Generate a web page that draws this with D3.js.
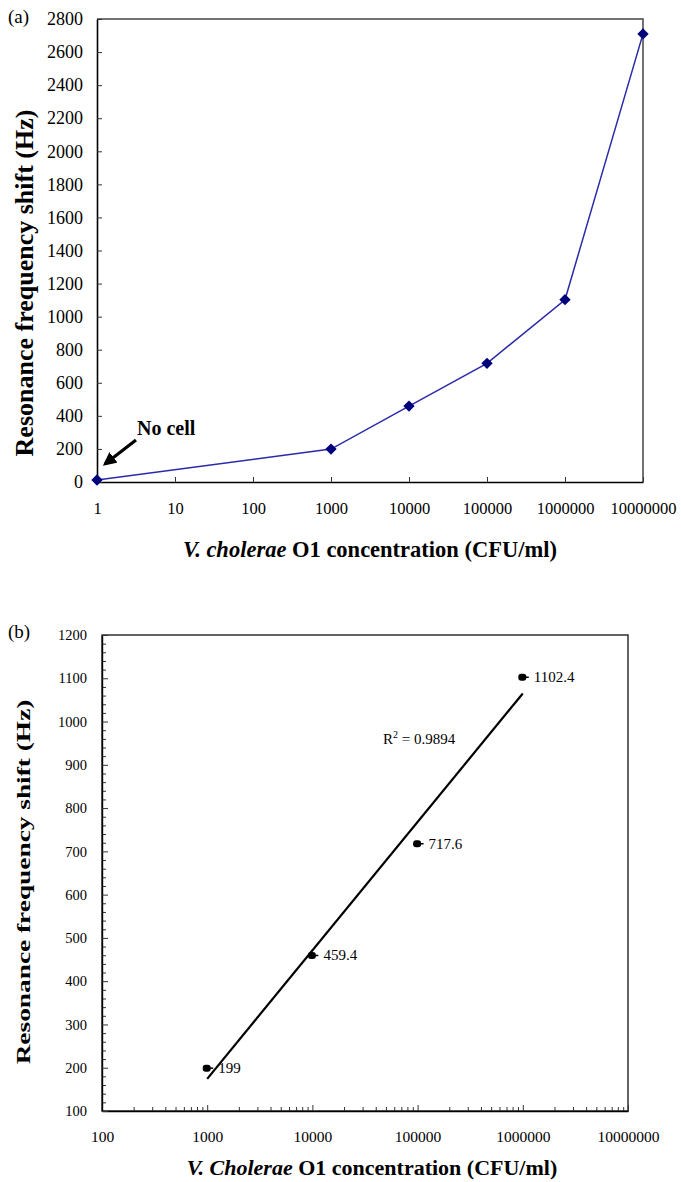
<!DOCTYPE html>
<html>
<head>
<meta charset="utf-8">
<script src="https://cdn.jsdelivr.net/npm/d3@7"></script>
<style>
  html, body { margin: 0; padding: 0; background: #fff; }
  svg { display: block; }
  text { font-family: "Liberation Serif", "Times New Roman", serif; fill: #000; }
</style>
</head>
<body>
<svg id="fig" width="681" height="1182"></svg>
<script>
// ---- data ----
var concA  = [1, 1000, 10000, 100000, 1000000, 10000000];
var shiftA = [12, 199, 459.4, 717.6, 1102.4, 2710];
var xTicksA = [1, 10, 100, 1000, 10000, 100000, 1000000, 10000000];
var yTicksA = [0, 200, 400, 600, 800, 1000, 1200, 1400, 1600, 1800, 2000, 2200, 2400, 2600, 2800];

var concB  = [1000, 10000, 100000, 1000000];
var shiftB = [199, 459.4, 717.6, 1102.4];
var labelsB = ['199', '459.4', '717.6', '1102.4'];
var xTicksB = [100, 1000, 10000, 100000, 1000000, 10000000];
var yTicksB = [100, 200, 300, 400, 500, 600, 700, 800, 900, 1000, 1100, 1200];
var r2Label = '0.9894';

var svg = d3.select('#fig');

function styleAxis(g, size, w) {
  g.attr('font-family', null).attr('font-size', null);
  g.select('.domain').attr('stroke', '#000').attr('stroke-width', w);
  g.selectAll('.tick line').attr('stroke', '#333');
  g.selectAll('text').attr('fill', '#000').style('font-size', size);
}

//------------------------------------------------------------
// Panel (a)

var a = {left: 97, right: 643, top: 19, bottom: 482};
var xa = d3.scaleLog().domain([1, 10000000]).range([a.left, a.right]);
var ya = d3.scaleLinear().domain([0, 2800]).range([a.bottom, a.top]);

var ga = svg.append('g');

// frame (top / right)
ga.append('path')
    .attr('d', 'M' + a.left + ',' + a.top + 'H' + a.right + 'V' + a.bottom)
    .attr('fill', 'none').attr('stroke', '#444').attr('stroke-width', 1.5);

var axA = ga.append('g').attr('transform', 'translate(0,' + a.bottom + ')')
    .call(d3.axisBottom(xa).tickValues(xTicksA).tickFormat(d3.format('d'))
      .tickSizeInner(-5).tickSizeOuter(0).tickPadding(20));
var ayA = ga.append('g').attr('transform', 'translate(' + a.left + ',0)')
    .call(d3.axisLeft(ya).tickValues(yTicksA).tickFormat(d3.format('d'))
      .tickSizeInner(-5).tickSizeOuter(0).tickPadding(14));
styleAxis(axA, '16.5px', 1.6);
styleAxis(ayA, '18px', 1.6);

var ptsA = concA.map(function(c, i) { return [c, shiftA[i]]; });
ga.append('path')
    .datum(ptsA)
    .attr('fill', 'none').attr('stroke', '#2a2aaa').attr('stroke-width', 1.5)
    .attr('d', d3.line().x(function(d) { return xa(d[0]); }).y(function(d) { return ya(d[1]); }));
ga.selectAll('path.pt').data(ptsA).enter().append('path')
    .attr('class', 'pt')
    .attr('transform', function(d) { return 'translate(' + xa(d[0]) + ',' + ya(d[1]) + ') rotate(45)'; })
    .attr('d', d3.symbol().type(d3.symbolSquare).size(64))
    .attr('fill', '#00007a');

// "No cell" annotation
ga.append('text').attr('x', 137).attr('y', 435)
    .style('font-size', '20px').style('font-weight', 'bold').text('No cell');
svg.append('defs').append('marker')
    .attr('id', 'ah').attr('viewBox', '0 0 10 10').attr('refX', 8).attr('refY', 5)
    .attr('markerWidth', 4.2).attr('markerHeight', 4.2).attr('orient', 'auto')
  .append('path').attr('d', 'M0,0L10,5L0,10z').attr('fill', '#000');
ga.append('line')
    .attr('x1', 136).attr('y1', 440).attr('x2', xa(1) + 8).attr('y2', ya(shiftA[0]) - 16)
    .attr('stroke', '#000').attr('stroke-width', 3.2).attr('marker-end', 'url(#ah)');

ga.append('text').attr('x', 8).attr('y', 23).style('font-size', '19px').text('(a)');

ga.append('text')
    .attr('transform', 'translate(33,283) rotate(-90)')
    .attr('text-anchor', 'middle').style('font-size', '26px').style('font-weight', 'bold')
    .text('Resonance frequency shift (Hz)');

var tA = ga.append('text').attr('x', 370).attr('y', 557)
    .attr('text-anchor', 'middle').style('font-size', '22.5px').style('font-weight', 'bold');
tA.append('tspan').style('font-style', 'italic').text('V. cholerae');
tA.append('tspan').text(' O1 concentration (CFU/ml)');

//------------------------------------------------------------
// Panel (b)

var b = {left: 102, right: 628, top: 635, bottom: 1111};
var xb = d3.scaleLog().domain([100, 10000000]).range([b.left, b.right]);
var yb = d3.scaleLinear().domain([100, 1200]).range([b.bottom, b.top]);

var gb = svg.append('g');

gb.append('rect')
    .attr('x', b.left).attr('y', b.top).attr('width', b.right - b.left).attr('height', b.bottom - b.top)
    .attr('fill', 'none').attr('stroke', '#222').attr('stroke-width', 1.4);

// minor ticks
var minorX = [];
xTicksB.slice(0, -1).forEach(function(d) { for (var k = 2; k < 10; k++) minorX.push(d * k); });
gb.append('g').attr('transform', 'translate(0,' + b.bottom + ')')
    .call(d3.axisBottom(xb).tickValues(minorX).tickFormat('').tickSizeInner(-4).tickSizeOuter(0))
    .call(function(g) { g.select('.domain').remove(); g.selectAll('line').attr('stroke', '#333'); });
var minorY = d3.range(100, 1200, 20).filter(function(d) { return d % 100 !== 0; });
gb.append('g').attr('transform', 'translate(' + b.left + ',0)')
    .call(d3.axisLeft(yb).tickValues(minorY).tickFormat('').tickSizeInner(-4).tickSizeOuter(0))
    .call(function(g) { g.select('.domain').remove(); g.selectAll('line').attr('stroke', '#333'); });

var axB = gb.append('g').attr('transform', 'translate(0,' + b.bottom + ')')
    .call(d3.axisBottom(xb).tickValues(xTicksB).tickFormat(d3.format('d'))
      .tickSizeInner(-6).tickSizeOuter(0).tickPadding(20));
var ayB = gb.append('g').attr('transform', 'translate(' + b.left + ',0)')
    .call(d3.axisLeft(yb).tickValues(yTicksB).tickFormat(d3.format('d'))
      .tickSizeInner(-6).tickSizeOuter(0).tickPadding(15));
styleAxis(axB, '15.5px', 1.4);
styleAxis(ayB, '14.5px', 1.4);

// linear fit against log10(concentration)
var lx = concB.map(function(c) { return Math.log10(c); });
var mx = d3.mean(lx), my = d3.mean(shiftB);
var sxy = d3.sum(lx, function(v, i) { return (v - mx) * (shiftB[i] - my); });
var sxx = d3.sum(lx, function(v) { return (v - mx) * (v - mx); });
var slope = sxy / sxx, icpt = my - slope * mx;
var fitEnds = [concB[0], concB[concB.length - 1]];
gb.append('path')
    .datum(fitEnds)
    .attr('fill', 'none').attr('stroke', '#000').attr('stroke-width', 2.2)
    .attr('d', d3.line()
      .x(function(c) { return xb(c); })
      .y(function(c) { return yb(icpt + slope * Math.log10(c)); }));

var ptsB = concB.map(function(c, i) { return [c, shiftB[i], labelsB[i]]; });
var mk = gb.selectAll('g.mk').data(ptsB).enter().append('g')
    .attr('class', 'mk')
    .attr('transform', function(d) { return 'translate(' + xb(d[0]) + ',' + yb(d[1]) + ')'; });
mk.append('rect').attr('x', -4.5).attr('y', -3.5).attr('width', 8).attr('height', 7)
    .attr('rx', 3).attr('fill', '#000');
mk.append('line').attr('x1', 2).attr('x2', 6).attr('y1', 0).attr('y2', 0)
    .attr('stroke', '#000').attr('stroke-width', 1.5);
mk.append('text').attr('x', 11).attr('y', 5).style('font-size', '15px')
    .text(function(d) { return d[2]; });

var r2 = gb.append('text').attr('x', 383).attr('y', 744).style('font-size', '15px');
r2.append('tspan').text('R');
r2.append('tspan').attr('dy', -6).style('font-size', '10px').text('2');
r2.append('tspan').attr('dy', 6).text(' = ' + r2Label);

gb.append('text').attr('x', 8).attr('y', 638).style('font-size', '19px').text('(b)');

// axis title is drawn taller than wide in the original, so stretch along the text
gb.append('text')
    .attr('transform', 'translate(30,882) rotate(-90) scale(1.52,1)')
    .attr('text-anchor', 'middle').style('font-size', '18px').style('font-weight', 'bold')
    .text('Resonance frequency shift (Hz)');

var tB = gb.append('text').attr('x', 372).attr('y', 1175)
    .attr('text-anchor', 'middle').style('font-size', '22px').style('font-weight', 'bold');
tB.append('tspan').style('font-style', 'italic').text('V. Cholerae');
tB.append('tspan').text(' O1 concentration (CFU/ml)');
</script>
</body>
</html>
